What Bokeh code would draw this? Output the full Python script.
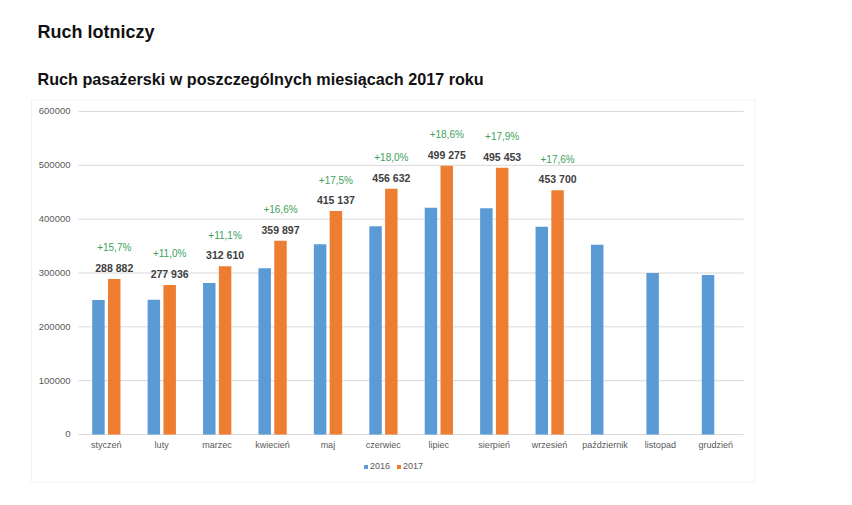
import numpy as np
from bokeh.plotting import figure
from bokeh.models import ColumnDataSource, Range1d, Label, BoxAnnotation, Legend, LegendItem
from bokeh.core.properties import value
from bokeh.embed import file_html
from bokeh.resources import INLINE

# ---- data ----
months = ["styczeń", "luty", "marzec", "kwiecień", "maj", "czerwiec", "lipiec",
          "sierpień", "wrzesień", "październik", "listopad", "grudzień"]
pax_2016 = [249700, 250400, 281400, 308700, 353300, 387000, 421000, 420200,
            385800, 352500, 300000, 296500]
pax_2017 = [288882, 277936, 312610, 359897, 415137, 456632, 499275, 495453, 453700]
growth_labels = ["+15,7%", "+11,0%", "+11,1%", "+16,6%", "+17,5%", "+18,0%",
                 "+18,6%", "+17,9%", "+17,6%"]
y_ticks = [0, 100000, 200000, 300000, 400000, 500000, 600000]
y_tick_labels = ["0", "100000", "200000", "300000", "400000", "500000", "600000"]
series_names = ["2016", "2017"]
title_main = "Ruch lotniczy"
title_sub = "Ruch pasażerski w poszczególnych miesiącach 2017 roku"

FONT = "Liberation Sans"
BLUE = "#5B9BD5"
ORANGE = "#ED7D31"
AXIS_TXT = "#595959"

n = len(months)
centers = np.arange(n) + 0.5
OFF16, OFF17, BW = -0.14, 0.145, 0.225

src16 = ColumnDataSource(dict(x=centers + OFF16, v=pax_2016))
src17 = ColumnDataSource(dict(
    x=centers[:len(pax_2017)] + OFF17, v=pax_2017,
    num=[f"{v:,}".replace(",", " ") for v in pax_2017],
    pct=growth_labels))
src_months = ColumnDataSource(dict(x=centers, y=[0] * n, t=months))
src_ticks = ColumnDataSource(dict(y=y_ticks, t=y_tick_labels,
                                  x0=[0] * len(y_ticks), x1=[n] * len(y_ticks)))

# plot area (months 0..12, values 0..600000) sits inside the whole canvas
p = figure(width=836, height=489, output_backend="svg", toolbar_location=None,
           x_range=Range1d(-1.4075, 13.678), y_range=Range1d(-102170, 806190),
           x_axis_type=None, y_axis_type=None,
           min_border=0, min_border_left=0, min_border_right=0,
           min_border_top=0, min_border_bottom=0)
p.outline_line_color = None
p.background_fill_color = "white"
p.border_fill_color = "white"

# outer chart border
p.add_layout(BoxAnnotation(left=-0.848, right=12.211, bottom=-88200, top=621700,
                           fill_color=None, fill_alpha=0, line_color="#D9D9D9",
                           line_width=1, level="underlay"))

# gridlines + tick labels
p.segment(x0="x0", x1="x1", y0="y", y1="y", source=src_ticks,
          line_color="#D9D9D9", line_width=1)
p.text(x="x0", y="y", text="t", source=src_ticks, x_offset=-8,
       text_align="right", text_baseline="middle", text_font=value(FONT),
       text_font_size="9.5px", text_color=AXIS_TXT)
p.text(x="x", y="y", text="t", source=src_months, y_offset=11,
       text_align="center", text_baseline="middle", text_font=value(FONT),
       text_font_size="9px", text_color=AXIS_TXT)

r16 = p.vbar(x="x", top="v", width=BW, source=src16, color=BLUE, line_color=None)
r17 = p.vbar(x="x", top="v", width=BW, source=src17, color=ORANGE, line_color=None)

p.text(x="x", y="v", text="num", source=src17, y_offset=-11,
       text_align="center", text_baseline="middle", text_font=value(FONT),
       text_font_size="10.5px", text_font_style="bold", text_color="#404040")
p.text(x="x", y="v", text="pct", source=src17, y_offset=-31,
       text_align="center", text_baseline="middle", text_font=value(FONT),
       text_font_size="10px", text_color="#3E9F5B")

# titles
p.add_layout(Label(x=-0.740, y=747300, text=title_main, text_font=FONT,
                   text_font_size="18px", text_font_style="bold",
                   text_color="#111111", text_baseline="alphabetic"))
p.add_layout(Label(x=-0.740, y=659450, text=title_sub, text_font=FONT,
                   text_font_size="16.2px", text_font_style="bold",
                   text_color="#111111", text_baseline="alphabetic"))

legend = Legend(items=[LegendItem(label=series_names[0], renderers=[r16]),
                       LegendItem(label=series_names[1], renderers=[r17])],
                location=(363, 18), orientation="horizontal",
                glyph_width=5, glyph_height=5, label_height=9, label_standoff=2,
                spacing=6, padding=0, margin=0, border_line_color=None,
                background_fill_alpha=0, label_text_font=FONT,
                label_text_font_size="9px", label_text_color=AXIS_TXT)
p.add_layout(legend, "center")

open("out.html", "w").write(file_html(p, INLINE))
